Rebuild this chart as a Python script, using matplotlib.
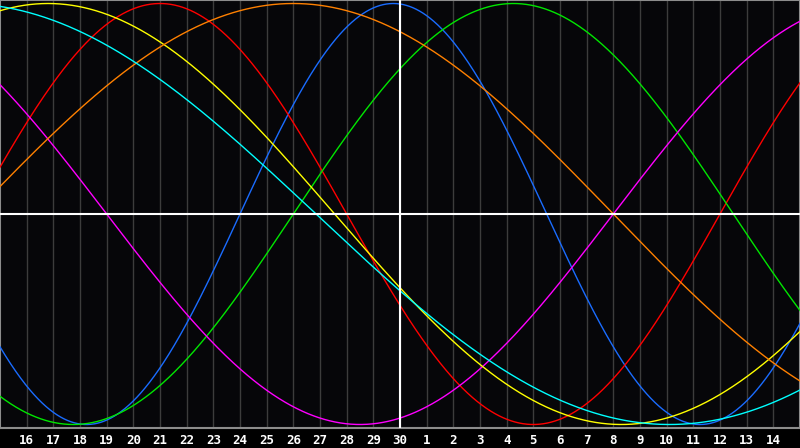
#biorhythm style chart, one month window

#imports
import matplotlib
matplotlib.use('Agg')
import matplotlib.pyplot as plt
import numpy as np


#data
day_labels = ['16', '17', '18', '19', '20', '21', '22', '23', '24', '25', '26', '27', '28', '29', '30',
              '1', '2', '3', '4', '5', '6', '7', '8', '9', '10', '11', '12', '13', '14']
cycle_days = [23, 28, 33, 38, 43, 48, 53]             # period of each curve [days]
peak_day = [14.75, 6.0, 19.25, -5.5, 1.8, 11.0, -1.4]  # day of a maximum, 0 = left edge
colours = ['#1a6cff', '#ff0000', '#00e600', '#ff00ff', '#ffff00', '#ff8000', '#00ffff']
today = 15  # position of the white vertical line (day 30)


#figure
fig = plt.figure(figsize=(8, 4.48), dpi=100, facecolor='#000000')
ax = fig.add_axes([0, 20/448, 1, 428/448])
ax.set_facecolor('#060609')

n_days = len(day_labels) + 1
ax.set_xlim(0, n_days)
ax.set_ylim(-214/210.5, 214/210.5)

#day grid
for d in range(1, n_days):
    ax.axvline(d, color='#3c3c3c', linewidth=1, zorder=1)

#curves
t = np.linspace(0, n_days, 1200)
for period, peak, col in zip(cycle_days, peak_day, colours):
    ax.plot(t, np.cos(2*np.pi*(t - peak)/period), color=col, linewidth=1, zorder=3)

#center lines
ax.axhline(0, color='white', linewidth=1.5, zorder=4)
ax.axvline(today, color='white', linewidth=1.5, zorder=4)

#ticks and frame
ax.set_xticks(range(1, n_days))
ax.set_xticklabels(day_labels, color='white', fontsize=9, fontweight='bold', family='DejaVu Sans Mono')
ax.tick_params(axis='x', length=0, pad=4)
ax.set_yticks([])
for s in ax.spines.values():
    s.set_color('#8c8c8c')
    s.set_linewidth(1.5)

fig.savefig('out.png', dpi=100, facecolor=fig.get_facecolor())
